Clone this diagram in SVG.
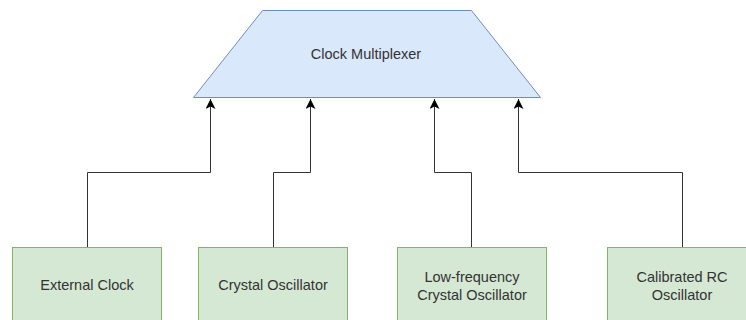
<svg xmlns="http://www.w3.org/2000/svg" width="746" height="320" viewBox="0 0 746 320">
<style>
.box{fill:#d5e8d4;stroke:#82b366;stroke-width:1}
.mux{fill:#dae8fc;stroke:#6c8ebf;stroke-width:1}
.t{font-family:"Liberation Sans",Arial,sans-serif;font-size:14.5px;fill:#333333;text-anchor:middle}
.e{fill:none;stroke:#333333;stroke-width:1}
</style>
<defs>
<marker id="ah" viewBox="0 0 10 10" refX="10" refY="5" markerWidth="10" markerHeight="10" markerUnits="userSpaceOnUse" orient="auto">
<path d="M0,0 L10,5 L0,10 L2.5,5 Z" fill="#000000"/>
</marker>
</defs>
<rect width="746" height="320" fill="#ffffff"/>
<g id="mux">
<polygon class="mux" points="262.5,10.5 471.5,10.5 540.5,97.5 193.5,97.5"/>
<text class="t" x="366" y="59">Clock Multiplexer</text>
</g>
<g id="n1">
<rect class="box" x="12.5" y="247.5" width="149" height="80"/>
<text class="t" x="87" y="290">External Clock</text>
</g>
<g id="n2">
<rect class="box" x="198.5" y="247.5" width="149" height="80"/>
<text class="t" x="273" y="290">Crystal Oscillator</text>
</g>
<g id="n3">
<rect class="box" x="397.5" y="247.5" width="149" height="80"/>
<text class="t" x="472" y="282">Low-frequency</text>
<text class="t" x="472" y="299.5">Crystal Oscillator</text>
</g>
<g id="n4">
<rect class="box" x="607.5" y="247.5" width="149" height="80"/>
<text class="t" x="682" y="282">Calibrated RC</text>
<text class="t" x="682" y="299.5">Oscillator</text>
</g>
<g id="edges">
<path class="e" d="M87.5,247 V172.5 H210.5 V99" marker-end="url(#ah)"/>
<path class="e" d="M273.5,247 V172.5 H310.5 V99" marker-end="url(#ah)"/>
<path class="e" d="M471.5,247 V172.5 H434.5 V99" marker-end="url(#ah)"/>
<path class="e" d="M682.5,247 V172.5 H518.5 V99" marker-end="url(#ah)"/>
</g>
</svg>
